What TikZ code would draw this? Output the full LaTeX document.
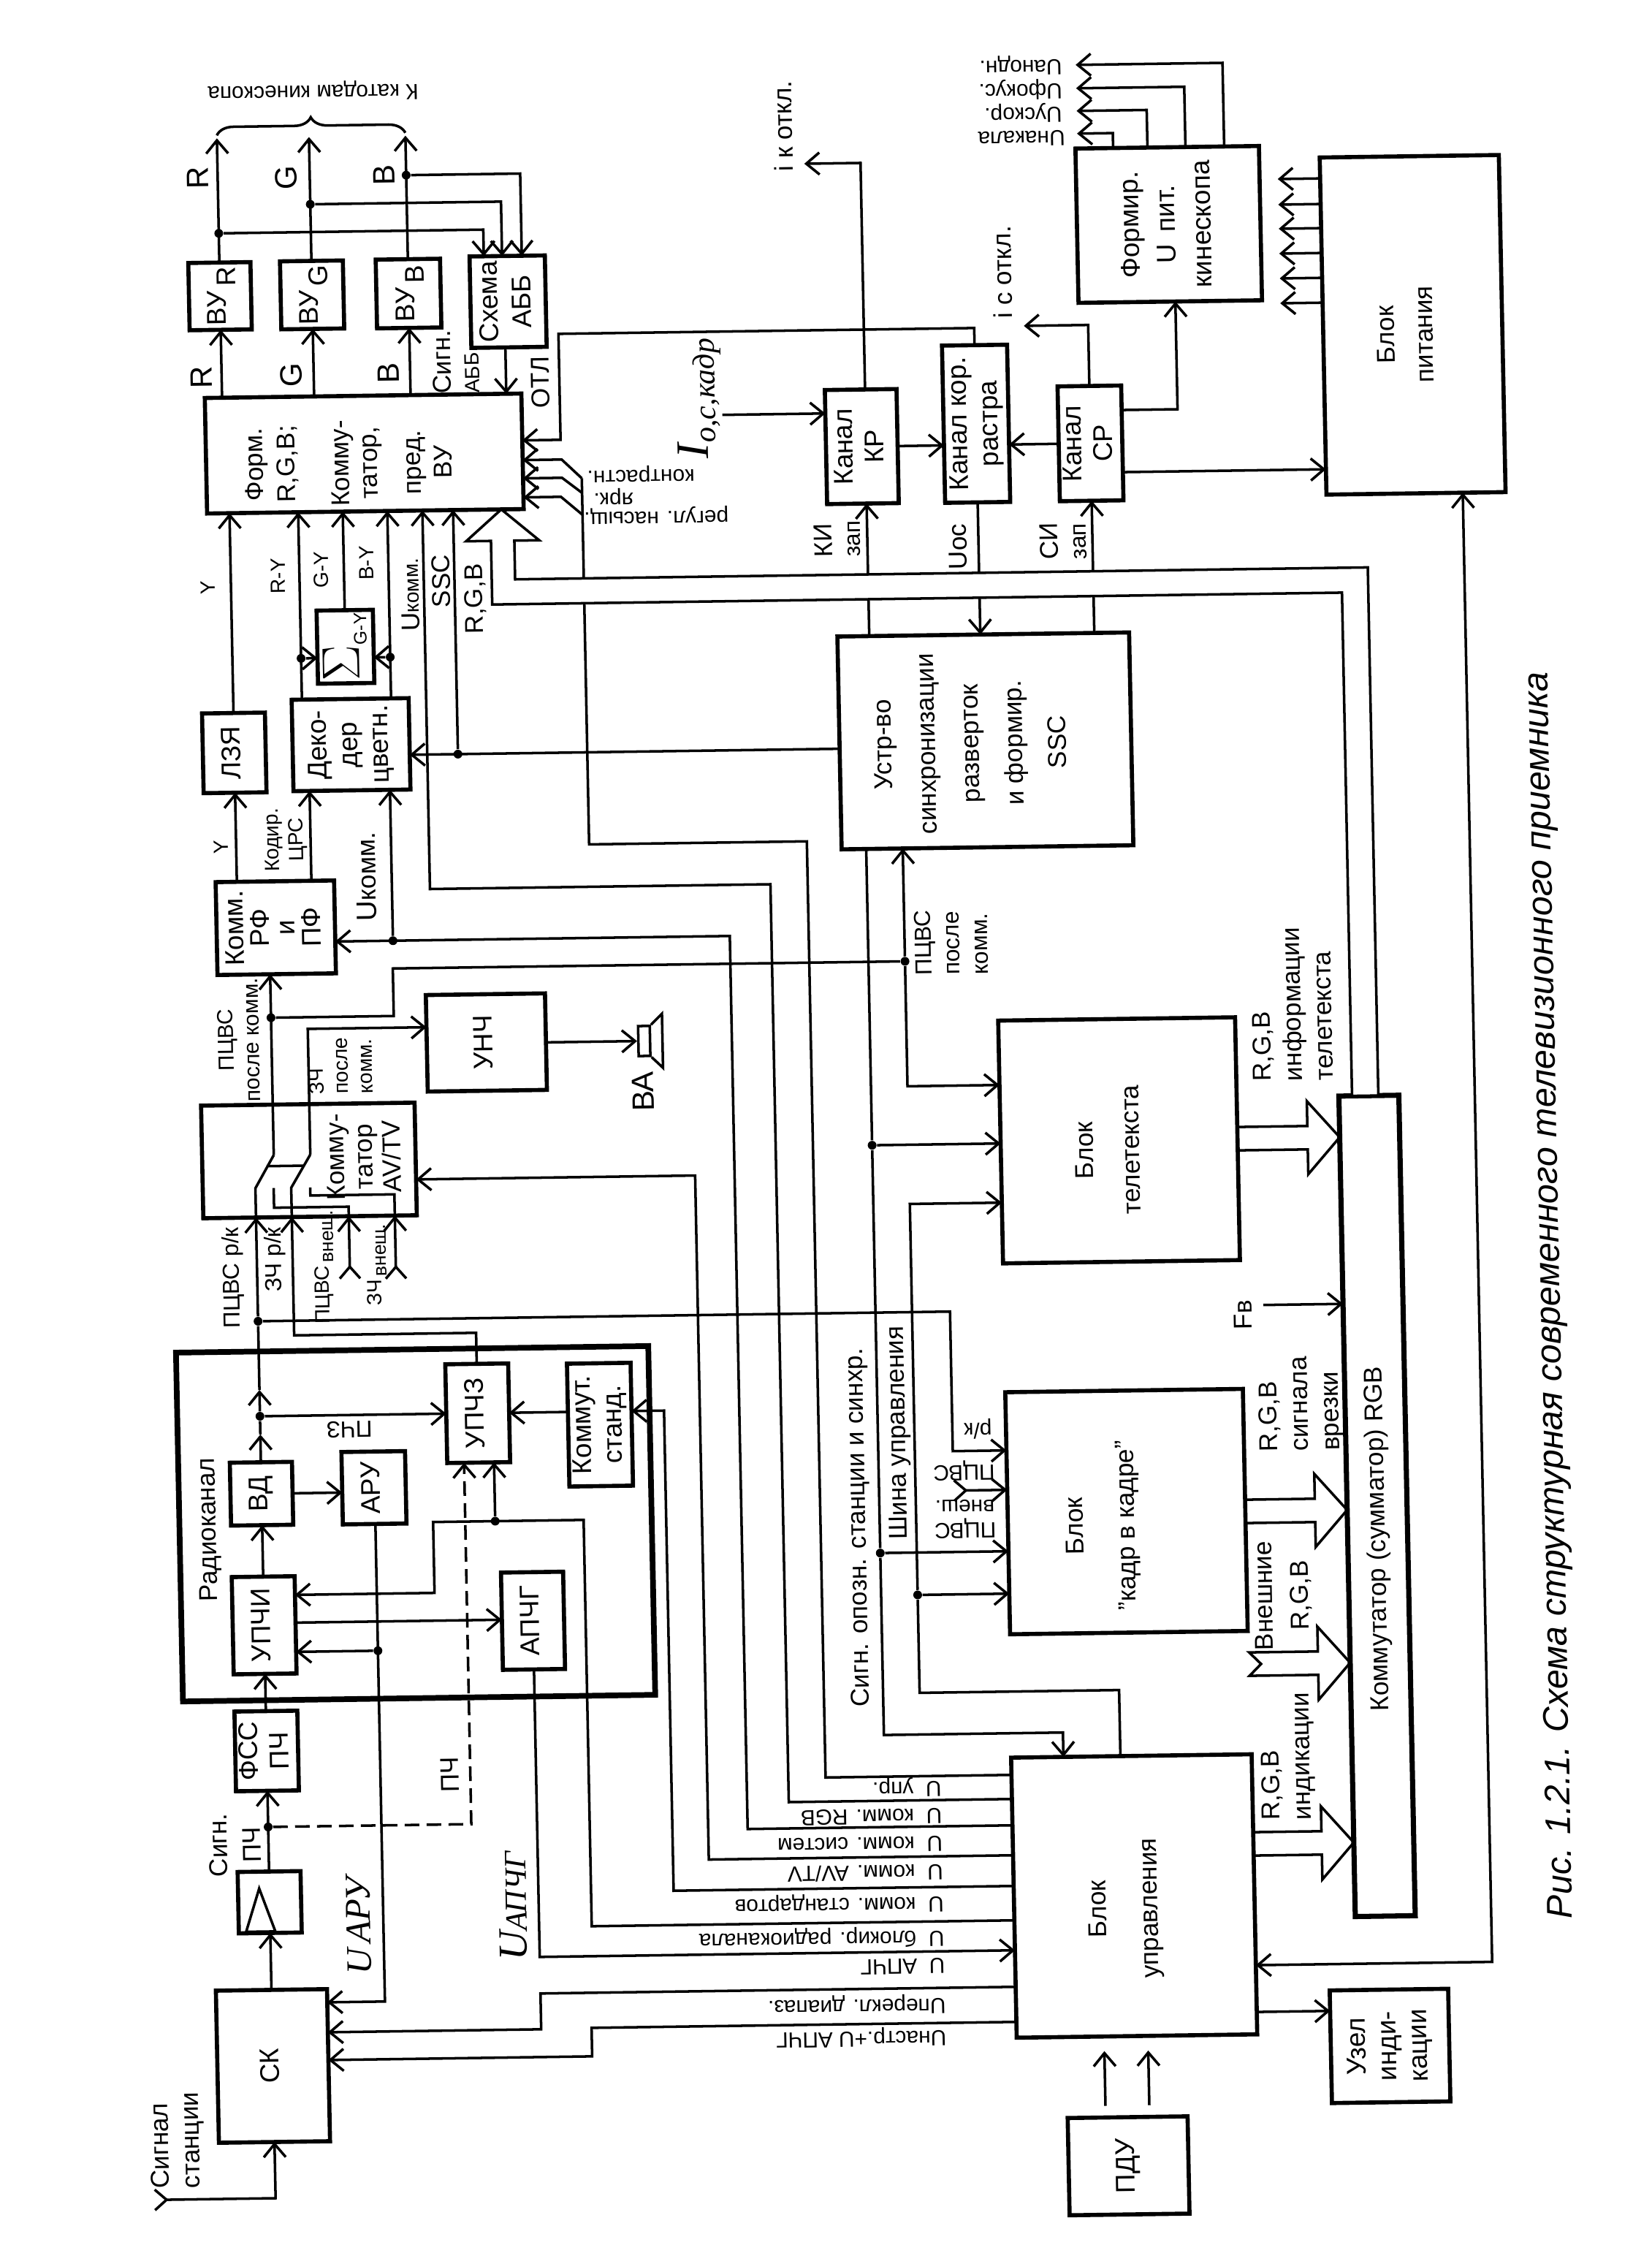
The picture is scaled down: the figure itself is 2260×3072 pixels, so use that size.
\documentclass[tikz,border=0pt]{standalone}
\usepackage{fontspec}
\usepackage{graphicx}
\setmainfont{Liberation Sans}
\newfontfamily\handfont{Liberation Serif}
\usetikzlibrary{arrows.meta, calc, decorations.pathreplacing}

\newcommand{\vt}[1]{\rotatebox{90}{\begin{tabular}{@{}c@{}}#1\end{tabular}}}
\newcommand{\fatarrow}[3]{%
  \draw[bus] (#1.east |- 0,#3-16) -- ($(#2.west |- 0,#3)+(-44,-16)$) -- ++(0,-34)
    -- (#2.west |- 0,#3) -- ++(-44,50) -- ++(0,-34) -- (#1.east |- 0,#3+16);}

\begin{document}
\begin{tikzpicture}[
  x=0.01cm, y=-0.01cm,
  >={Straight Barb[length=1.8mm,width=3mm]},
  box/.style={draw, line width=1.6pt, inner sep=0pt, outer sep=0pt, align=center,
              font=\fontsize{10.5}{12}\selectfont},
  sz/.style 2 args={minimum width=#1*0.1mm, minimum height=#2*0.1mm},
  arr/.style={->, line width=1pt},
  wire/.style={line width=1pt},
  farr/.style={{Straight Barb[reversed,length=1.6mm,width=2.8mm]}->, line width=1pt},
  bus/.style={line width=1pt},
  dot/.style={circle, fill=black, inner sep=0pt, minimum size=1.2mm},
  vlab/.style={rotate=90, align=center, inner sep=0pt, font=\fontsize{10}{12}\selectfont},
  vsm/.style={vlab, font=\fontsize{8}{9.5}\selectfont},
  vbig/.style={vlab, font=\fontsize{12}{14}\selectfont},
  flab/.style={rotate=180, inner sep=0pt, font=\fontsize{8.5}{10}\selectfont},
  ulab/.style={flab, anchor=west},
]
\useasboundingbox (0,0) rectangle (2260,3072);
\begin{scope}[transform canvas={cm={1,0.014,-0.02,1,(-3.072mm,-1.582mm)}}]

% ============ NODES ============

% Video amplifiers
\node[box, sz={85}{92}] (vyr) at (324,394) {\vt{ВУ\raisebox{-4pt}{\,R}}};
\node[box, sz={86}{93}] (vyg) at (450,394) {\vt{ВУ\raisebox{-4pt}{\,G}}};
\node[box, sz={88}{94}] (vyb) at (582,394) {\vt{ВУ\raisebox{-4pt}{\,B}}};
\node[box, sz={103}{125}] (abb) at (718,407) {\vt{Схема\\[1pt]АББ}};
\node[box, sz={433}{158}] (form) at (517,612) {};

% Scan channels and power
\node[box, sz={98}{156}] (kr) at (1198,612) {\vt{Канал\\КР}};
\node[box, sz={89}{215}] (kkr) at (1355,583) {\vt{Канал кор.\\растра}};
\node[box, sz={87}{157}] (cr) at (1511,612) {\vt{Канал\\СР}};
\node[box, sz={251}{211}] (fp) at (1624,314) {\vt{Формир.\\[2pt]U\, пит.\\[2pt]кинескопа}};
\node[box, sz={245}{461}] (bp) at (1955,456) {};

% Video path
\node[box, sz={86}{109}] (lzya) at (331,1019) {\vt{ЛЗЯ}};
\node[box, sz={160}{125}] (dec) at (491,1010) {\vt{Деко-\\дер\\цветн.}};
\node[box, sz={77}{100}] (sumb) at (486,876)
  {\vt{{\fontsize{20}{20}\selectfont$\Sigma$}\raisebox{-3pt}{\fontsize{7}{8}\selectfont G-Y}}};
\node[box, sz={162}{127}] (komrf) at (383,1259) {\vt{Комм.\\[-2pt]РФ\\[-2pt]и\\[-2pt]ПФ}};
\node[box, sz={163}{132}] (unch) at (668,1420) {\vt{УНЧ}};
\node[box, sz={292}{154}] (kav) at (422,1578) {};
\node[draw, line width=1pt, inner sep=0pt, sz={16}{41}] (spk) at (884,1421) {};

% Radio channel
\node[box, line width=2.2pt, sz={646}{477}] (rk) at (558,2077) {};
\node[box, sz={85}{86}] (vd) at (348,2033) {\vt{ВД}};
\node[box, sz={87}{99}] (aru) at (502,2027) {\vt{АРУ}};
\node[box, sz={86}{133}] (upchi) at (348,2213) {\vt{УПЧИ}};
\node[box, sz={86}{135}] (upchz) at (646,1927) {\vt{УПЧЗ}};
\node[box, sz={85}{133}] (apchg) at (716,2212) {\vt{АПЧГ}};
\node[box, sz={87}{168}] (komst) at (813,1945) {\vt{Коммут.\\станд.}};
\node[box, sz={86}{109}] (fss) at (348,2385) {\vt{ФСС\\ПЧ}};
\node[box, sz={86}{84}] (pchb) at (348,2592) {};
\node[box, sz={152}{208}] (sk) at (348,2816) {\vt{СК}};

% Large blocks
\node[box, sz={399}{291}] (sync) at (1359,1017) {};
\node[box, sz={324}{332}] (ttx) at (1531,1566) {};
\node[box, sz={325}{331}] (pip) at (1531,2074) {};
\node[box, sz={329}{383}] (upr) at (1531,2600) {};
\node[box, line width=2pt, sz={82}{1122}] (kmt) at (1874,2071) {};
\node[box, sz={162}{154}] (uzel) at (1877,2810) {\vt{Узел\\инди-\\кации}};
\node[box, sz={164}{133}] (pdu) at (1516,2969) {\vt{ПДУ}};

% Junctions
\node[dot] (dr) at (324,308) {};
\node[dot] (dg) at (450,270) {};
\node[dot] (db) at (582,232) {};
\node[dot] (dry) at (425,891) {};
\node[dot] (dby) at (547,891) {};
\node[dot] (dss) at (637,1025) {};
\node[dot] (duk) at (543,1279) {};
\node[dot] (dpk) at (374,1382) {};
\node[dot] (dsp) at (1243,1317) {};
\node[dot] (dpz) at (348,1927) {};
\node[dot] (dpv) at (348,1797) {};
\node[dot] (dbl) at (667,2075) {};
\node[dot] (dar) at (503,2250) {};
\node[dot] (dpc) at (348,2489) {};
\node[dot] (dsg) at (1193,1568) {};
\node[dot] (dsh) at (1193,2126) {};
\node[dot] (dsu) at (1243,2184) {};

% Free ends
\coordinate (orr) at (324,178);
\coordinate (org) at (450,178);
\coordinate (orb) at (582,178);
\coordinate (ios) at (1008,566);
\coordinate (ikk) at (1127,224);
\coordinate (isk) at (1423,450);
\coordinate (inb) at (475,1742);
\coordinate (inc) at (538,1743);
\coordinate (ipv) at (1294,2042);
\coordinate (isg) at (181,2997);
\coordinate (ifb) at (1724,1794);

% ============ ARROWS ============

% Outputs to the tube
\draw[arr] (form.north -| vyr) -- (vyr.south);
\draw[arr] (form.north -| vyg) -- (vyg.south);
\draw[arr] (form.north -| vyb) -- (vyb.south);
\draw[arr] (vyr.north) -- (orr);
\draw[arr] (vyg.north) -- (org);
\draw[arr] (vyb.north) -- (orb);
\draw[arr] (dr) -| (abb.north -| 686,0);
\draw[arr] (dg) -| (abb.north -| 711,0);
\draw[arr] (db) -| (abb.north -| 738,0);
\draw[arr] (abb.south -| 713,0) -- (form.north -| 713,0);
\draw[wire, decorate, decoration={brace,amplitude=2.3mm}] (vyr |- 0,174) -- (vyb |- 0,174);

% Inputs of the matrix
\draw[arr] (lzya.north) -- (form.south -| lzya);
\draw[arr] (dec.north -| dry) -- (form.south -| dry);
\draw[arr] (dec.north -| dby) -- (form.south -| dby);
\draw[arr] (sumb.north) -- (form.south -| sumb);
\draw[arr] (dry) -- (sumb.west |- dry);
\draw[arr] (dby) -- (sumb.east |- dby);
\draw[arr] (dss) -- (form.south -| dss);
\draw[arr] (sync.west |- dss) -- (dec.east |- dss);
\draw[arr] (kkr.north) |- (786,452) -- (786,597) -- (form.east |- 0,597);
\draw[arr] (814,650) -- (787,624) -- (form.east |- 0,624);
\draw[arr] (814,670) -- (787,649) -- (form.east |- 0,649);
\draw[arr] (814,700) -- (785,675) -- (form.east |- 0,675);

% Switching lines of the control block
\draw[wire] (upr.west |- 0,2432) -| (1112,1151) -| (814,650);
\draw[arr] (upr.west |- 0,2465) -| (1061,1209) -| (form.south -| 595,0);
\draw[arr] (upr.west |- 0,2501) -| (1004,1279) -- (komrf.east |- 0,1279);
\draw[arr] (upr.west |- 0,2542) -| (950,1606) -- (kav.east |- 0,1606);
\draw[arr] (upr.west |- 0,2584) -| (901,1927) -- (komst.east |- 0,1927);
\draw[arr] (upr.west |- 0,2631) -| (788,2075) -| (582,2172) -- (upchi.east |- 0,2172);
\draw[arr] (dbl) -- (upchz.south -| dbl);
\draw[arr] (apchg.south) |- (upr.west |- 0,2672);
\draw[arr] (upr.west |- 0,2722) -| (716,2771) -- (sk.east |- 0,2771);
\draw[arr] (upr.west |- 0,2770) -| (785,2809) -- (sk.east |- 0,2809);
\draw[arr] (aru.south -| dar) |- (sk.east |- 0,2730);
\draw[arr] (dar) -- (upchi.east |- dar);

% Scan channels
\draw[arr] (sync.north -| 1203,0) -- (kr.south -| 1203,0);
\draw[arr] (kkr.south) -- (sync.north -| kkr);
\draw[arr] (sync.north -| cr) -- (cr.south);
\draw[arr] (ios) -- (kr.west |- ios);
\draw[arr] (kr.east |- 0,612) -- (kkr.west |- 0,612);
\draw[arr] (cr.west |- 0,612) -- (kkr.east |- 0,612);
\draw[arr] (kr.north -| 1204,0) |- (ikk);
\draw[arr] (cr.north) |- (isk);
\draw[arr] (cr.east |- 0,567) -| (fp.south -| 1631,0);
\draw[arr] (cr.east |- 0,652) -- (bp.west |- 0,652);
\foreach \xx/\yy in {1550/188,1597/157,1649/126,1702/94}
  \draw[arr] (fp.north -| \xx,0) |- (1501,\yy);
\foreach \yy in {254,289,322,356,390,424}
  \draw[arr] (bp.west |- 0,\yy) -- ++(-58,0);
\draw[arr, <->] (upr.east |- 0,2697) -| (bp.south -| 2019,0);

% Composite video after the switch
\draw[arr] (374,1570) -- (komrf.south -| 374,0);
\draw[wire] (dpk) -| (542,1317) -- (dsp);
\draw[arr] (dsp) -- (sync.south -| dsp);
\draw[arr] (dsp) |- (ttx.west |- 0,1488);
\draw[arr] (424,1570) |- (unch.west |- 0,1398);
\draw[arr] (komrf.north -| lzya) -- (lzya.south);
\draw[arr] (komrf.north -| 433,0) -- (dec.south -| 433,0);
\draw[arr] (duk) -- (dec.south -| duk);
\draw[arr] (unch.east |- spk) -- (spk.west);
\draw[wire] (spk.north east) -- (909,1384) -- (909,1458) -- (spk.south east);

% Switch contacts
\draw[wire] (kav.south -| 348,0) -- (348,1615) -- (374,1570);
\draw[wire] (kav.south -| 397,0) -- (397,1615) -- (424,1570);
\draw[wire] (364,1585) -- (414,1585);
\draw[wire] (kav.south -| 475,0) |- (373,1642) -- (373,1615);
\draw[wire] (kav.south -| 538,0) |- (423,1626) -- (423,1615);
\draw[farr] (inb) -- (kav.south -| inb);
\draw[farr] (inc) -- (kav.south -| inc);
\draw[arr] (dpv) -- (kav.south -| dpv);
\draw[arr] (upchz.north) |- (397,1817) -- (kav.south -| 397,0);

% Radio channel path
\draw[farr] (isg) -| (sk.south);
\draw[arr] (sk.north) -- (pchb.south);
\draw[arr] (pchb.north) -- (fss.south);
\draw[arr] (fss.north) -- (upchi.south);
\draw[arr] (upchi.north) -- (vd.south);
\draw[arr] (vd.north) -- (348,1952);
\draw[wire] (348,1952) -- (dpz);
\draw[arr] (dpz) -- (348,1891);
\draw[wire] (348,1891) -- (dpv);
\draw[arr] (dpz) -- (upchz.west);
\draw[arr] (vd.east) -- (aru.west |- vd);
\draw[arr] (upchi.east |- 0,2210) -- (apchg.west |- 0,2210);
\draw[arr] (komst.west |- upchz) -- (upchz.east);
\draw[arr, dash pattern=on 2mm off 1mm] (dpc) -| (upchz.south -| 626,0);
\draw[wire] ($(pchb)+(-14,-19)$) -- ($(pchb)+(-33,40)$) -- ($(pchb)+(7,40)$) -- cycle;

% Sync and control bus
\draw[wire] (sync.south -| dsg) -- (dsg) -- (dsh);
\draw[arr] (dsh) |- (1438,2375) -- (upr.north -| 1438,0);
\draw[arr] (dsg) -- (ttx.west |- dsg);
\draw[arr] (dsh) -- (pip.west |- dsh);
\draw[arr] (dsu) |- (ttx.west |- 0,1649);
\draw[wire] (dsu) |- (1516,2318) -- (upr.north -| 1516,0);
\draw[arr] (dsu) -- (pip.west |- dsu);
\draw[arr] (dpv) -| (1295,1988) -- (pip.west |- 0,1988);
\draw[farr] (ipv) -- (pip.west |- ipv);
\draw[arr] (ifb) -- (kmt.west |- ifb);
\draw[arr] (upr.east |- 0,2761) -- (uzel.west |- 0,2761);
\draw[arr, shorten <=1.6mm, shorten >=2mm] (pdu.north -| 1486,0) -- (upr.south -| 1486,0);
\draw[arr, shorten <=1.6mm, shorten >=2mm] (pdu.north -| 1546,0) -- (upr.south -| 1546,0);

% Hollow arrows
\draw[bus, fill=white] (form.south -| 703,0) -- (754,734) -- (720,734) -- (720,787)
  -| (kmt.north -| 1887,0) -- (kmt.north -| 1851,0) |- (688,821) -- (688,734) -- (654,734) -- cycle;
\fatarrow{ttx}{kmt}{1566}
\fatarrow{pip}{kmt}{2076}
\fatarrow{upr}{kmt}{2531}
\draw[bus] (1695,2269) -- (1789,2269) -- (1789,2235) -- (kmt.west |- 0,2285)
  -- (1789,2335) -- (1789,2301) -- (1695,2301) -- (1711,2285) -- cycle;

% ============ LABELS ============

\node[flab] (lkat) at (457,115) {К катодам кинескопа};
\node[vbig] (lr1) at (297,232) {R};
\node[vbig] (lg1) at (418,233) {G};
\node[vbig] (lb1) at (552,232) {B};
\node[vbig] (lr2) at (296,505) {R};
\node[vbig] (lg2) at (419,503) {G};
\node[vbig] (lb2) at (552,503) {B};
\node[vlab, align=left] (lsa) at (645,488) {Сигн.\\[-1pt]{\fontsize{8}{9}\selectfont АББ}};
\node[vlab] (lotl) at (760,518) {ОТЛ};
\node[vlab, font=\fontsize{10}{12}\selectfont] (tform) at (495,625)
  {Форм.\\[0.5pt]R,G,B;\\[9pt]Комму-\\[-1pt]татор,\\[5pt]пред.\\ВУ};
\node[flab] (lkon) at (895,645) {контрастн.};
\node[flab] (lyar) at (857,676) {ярк.};
\node[flab] (lreg) at (915,702) {регул. насыщ.};
\node[vsm] (ly1) at (300,793) {Y};
\node[vsm] (lry) at (396,778) {R-Y};
\node[vsm] (lgy) at (455,770) {G-Y};
\node[vsm] (lby) at (517,762) {B-Y};
\node[vlab] (lu1) at (576,806) {U{\fontsize{8}{9}\selectfont комм.}};
\node[vlab] (lssc) at (619,788) {SSC};
\node[vlab] (lrgb) at (665,813) {R,G,B};
\node[vlab, font=\handfont\itshape\fontsize{18}{20}\selectfont] (lios) at (977,543)
  {I\raisebox{-3pt}{\fontsize{12}{14}\selectfont о,с,кадр}};
\node[vlab] (likk) at (1099,172) {i к откл.};
\node[vlab] (lisk) at (1395,376) {i с откл.};
\node[vlab, align=left] (lki) at (1162,738) {КИ\\[-1pt]{\fontsize{9}{10}\selectfont зап}};
\node[vlab] (luos) at (1327,751) {Uос};
\node[vlab, align=left] (lsi) at (1471,745) {СИ\\[-1pt]{\fontsize{9}{10}\selectfont зап}};
\node[flab] (lun) at (1425,194) {Uнакала};
\node[flab] (luu) at (1428,159) {Uускор.};
\node[flab] (luf) at (1425,127) {Uфокус.};
\node[flab] (lua) at (1426,94) {Uанодн.};
\node[vlab] (tbp) at (1944,469) {Блок\\[3pt]питания};
\node[vlab] (tsync) at (1338,1020)
  {Устр-во\\[5pt]синхронизации\\[5pt]разверток\\[5pt]и формир.\\[5pt]SSC};
\node[vlab] (tttx) at (1515,1579) {Блок\\[6pt]телетекста};
\node[vlab] (tpip) at (1498,2093) {Блок\\[8pt]"кадр в кадре"};
\node[vlab] (tupr) at (1519,2617) {Блок\\[8pt]управления};
\node[vlab] (tkmt) at (1875,2116) {Коммутатор (сумматор) RGB};
\node[vlab] (tkav) at (497,1574) {Комму-\\[-1pt]татор\\[-1pt]AV/TV};
\node[vsm] (ly2) at (310,1148) {Y};
\node[vsm, align=center] (lkod) at (399,1139) {Кодир.\\ЦРС};
\node[vlab, font=\fontsize{11}{13}\selectfont] (lu2) at (508,1191) {U{\fontsize{10}{11}\selectfont комм.}};
\node[vsm, font=\fontsize{8.5}{10}\selectfont] (lpp) at (329,1412) {ПЦВС\\после комм.};
\node[vsm, align=left] (lzp) at (468,1449) {ЗЧ\\после\\комм.};
\node[vbig] (lba) at (881,1490) {ВА};
\node[vsm, font=\fontsize{9}{10}\selectfont] (lpr) at (315,1737) {ПЦВС р/к};
\node[vsm, font=\fontsize{9}{10}\selectfont] (lzr) at (373,1713) {ЗЧ р/к};
\node[vsm] (lpv) at (440,1724) {ПЦВС\raisebox{-2pt}{\,\fontsize{7.5}{8}\selectfont внеш.}};
\node[vsm] (lzv) at (512,1722) {ЗЧ\raisebox{-2pt}{\,\fontsize{7.5}{8}\selectfont внеш.}};
\node[vlab] (lrad) at (276,2081) {Радиоканал};
\node[flab, font=\fontsize{9}{10}\selectfont] (lpz) at (470,1947) {ПЧЗ};
\node[vlab] (lpch) at (598,2421) {ПЧ};
\node[vlab] (lsp) at (302,2513) {Сигн.\\[1pt]ПЧ};
\node[vlab, font=\handfont\itshape\fontsize{14}{16}\selectfont] (luar) at (469,2626) {U\,АРУ};
\node[vlab, font=\handfont\itshape\fontsize{16}{18}\selectfont] (luap) at (681,2602)
  {U{\fontsize{12}{14}\selectfont АПЧГ}};
\node[vlab, align=left] (lsig) at (215,2916) {Сигнал\\станции};
\node[vlab, align=left, font=\fontsize{9}{11}\selectfont] (lpk) at (1307,1292) {ПЦВС\\после\\комм.};
\node[vlab, align=left] (lrt) at (1771,1383) {R,G,B\\информации\\телетекста};
\node[vlab, align=left] (lrv) at (1773,1930) {R,G,B\\сигнала\\врезки};
\node[vlab] (lre) at (1743,2192) {Внешние\\[2pt]R,G,B};
\node[vlab, align=left] (lri) at (1745,2412) {R,G,B\\индикации};
\node[vlab] (lfb) at (1696,1807) {Fв};
\node[vlab] (lsh) at (1222,1962) {Шина управления};
\node[vlab] (lso) at (1165,2091) {Сигн. опозн. станции и синхр.};
\node[flab] (lrk) at (1330,1958) {р/к};
\node[flab] (lp1) at (1310,2015) {ПЦВС};
\node[flab] (lvn) at (1310,2063) {внеш.};
\node[flab] (lp2) at (1310,2094) {ПЦВС};
\node[ulab] (lv1) at (1271,2447) {U\ \ упр.};
\node[ulab] (lv2) at (1271,2487) {U\ \ комм. RGB};
\node[ulab] (lv3) at (1271,2525) {U\ \ комм. систем};
\node[ulab] (lv4) at (1271,2564) {U\ \ комм. AV/TV};
\node[ulab] (lv5) at (1271,2605) {U\ \ комм. стандартов};
\node[ulab] (lv6) at (1271,2652) {U\ \ блокир. радиоканала};
\node[ulab] (lv7) at (1271,2692) {U\ \ АПЧГ};
\node[ulab] (lv8) at (1271,2744) {Uперекл. диапаз.};
\node[ulab] (lv9) at (1271,2788) {Uнастр.+U АПЧГ};
\node[vlab, font=\fontsize{13.8}{15}\itshape\selectfont] (lcap) at (2118,1786)
  {Рис. 1.2.1. Схема структурная современного телевизионного приемника};

\end{scope}
\end{tikzpicture}
\end{document}
